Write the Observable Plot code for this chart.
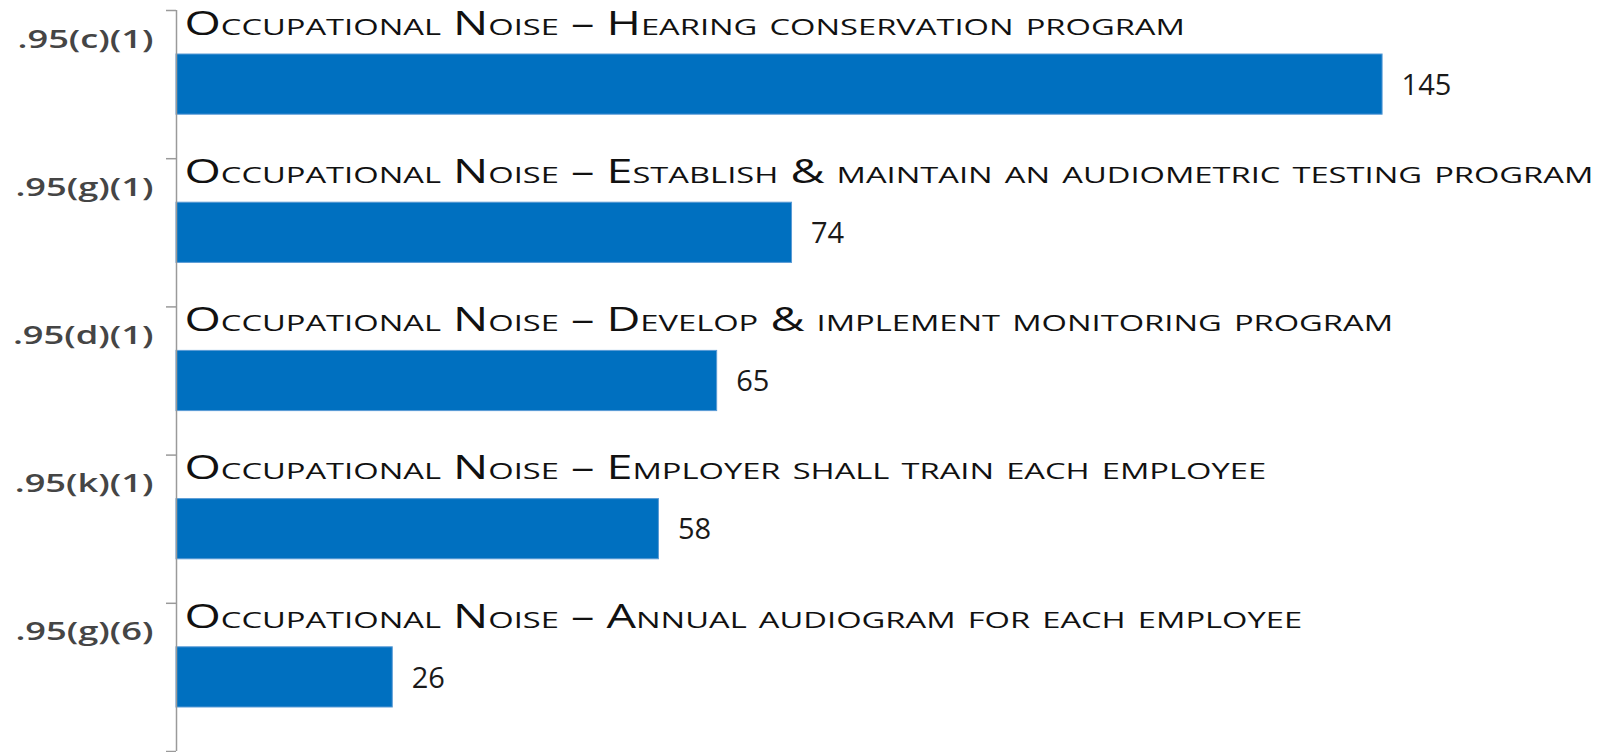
<!DOCTYPE html>
<html>
<head>
<meta charset="utf-8">
<script src="https://cdn.jsdelivr.net/npm/d3@7"></script>
<script src="https://cdn.jsdelivr.net/npm/@observablehq/plot@0.6"></script>
<style>
  html, body { margin: 0; padding: 0; background: #fff; }
  #chart svg { display: block; }
</style>
</head>
<body>
<div id="chart"></div>
<script>
const codes = [".95(c)(1)", ".95(g)(1)", ".95(d)(1)", ".95(k)(1)", ".95(g)(6)"];
const descriptions = [
  "Occupational Noise – Hearing conservation program",
  "Occupational Noise – Establish & maintain an audiometric testing program",
  "Occupational Noise – Develop & implement monitoring program",
  "Occupational Noise – Employer shall train each employee",
  "Occupational Noise – Annual audiogram for each employee"
];
const counts = [145, 74, 65, 58, 26];

const data = codes.map((c, i) => ({code: c, desc: descriptions[i], value: counts[i], i0: i, i1: i + 1, mid: i + 0.5}));

const chart = Plot.plot({
  width: 1610,
  height: 752,
  marginLeft: 176,
  marginRight: 0,
  marginTop: 10,
  marginBottom: 1,
  x: {domain: [0, 172.4], axis: null},
  y: {domain: [0, 5], reverse: true, axis: null},
  marks: [
    Plot.rect(data, {x1: () => 0, x2: "value", y1: "i0", y2: "i1", insetTop: 44, insetBottom: 44, fill: "#0070C0", stroke: "#5a9bd5", strokeWidth: 1}),
    Plot.ruleX([0], {stroke: "#9a9a9a", strokeWidth: 1.5}),
    Plot.axisY(d3.range(0, 6), {tickSize: 10, tickFormat: () => "", stroke: "#9a9a9a", strokeWidth: 1.5}),
    Plot.text(data, {y: "i0", frameAnchor: "left", text: "desc", textAnchor: "start", dx: 8, dy: 14,
      fontFamily: "Open Sans", fontSize: 32, fontVariant: "small-caps", fill: "#111"}),
    Plot.text(data, {y: "i0", frameAnchor: "left", text: "code", textAnchor: "end", dx: -23, dy: 29,
      fontFamily: "Open Sans", fontSize: 25, fontWeight: 600, fill: "#454545"}),
    Plot.text(data, {x: "value", y: "mid", text: d => String(d.value), textAnchor: "start", dx: 19, dy: 1,
      fontFamily: "Open Sans", fontSize: 29, fill: "#1a1a1a"})
  ]
});
// widen the lettering horizontally to match the reference's stretched text
d3.select(chart).selectAll('g[font-variant="small-caps"] text')
  .attr("transform", function() { return (this.getAttribute("transform") || "") + " scale(1.46,1)"; });
d3.select(chart).selectAll('g[font-weight="600"] text')
  .attr("transform", function() { return (this.getAttribute("transform") || "") + " scale(1.45,1)"; });
document.getElementById("chart").appendChild(chart);
</script>
</body>
</html>
